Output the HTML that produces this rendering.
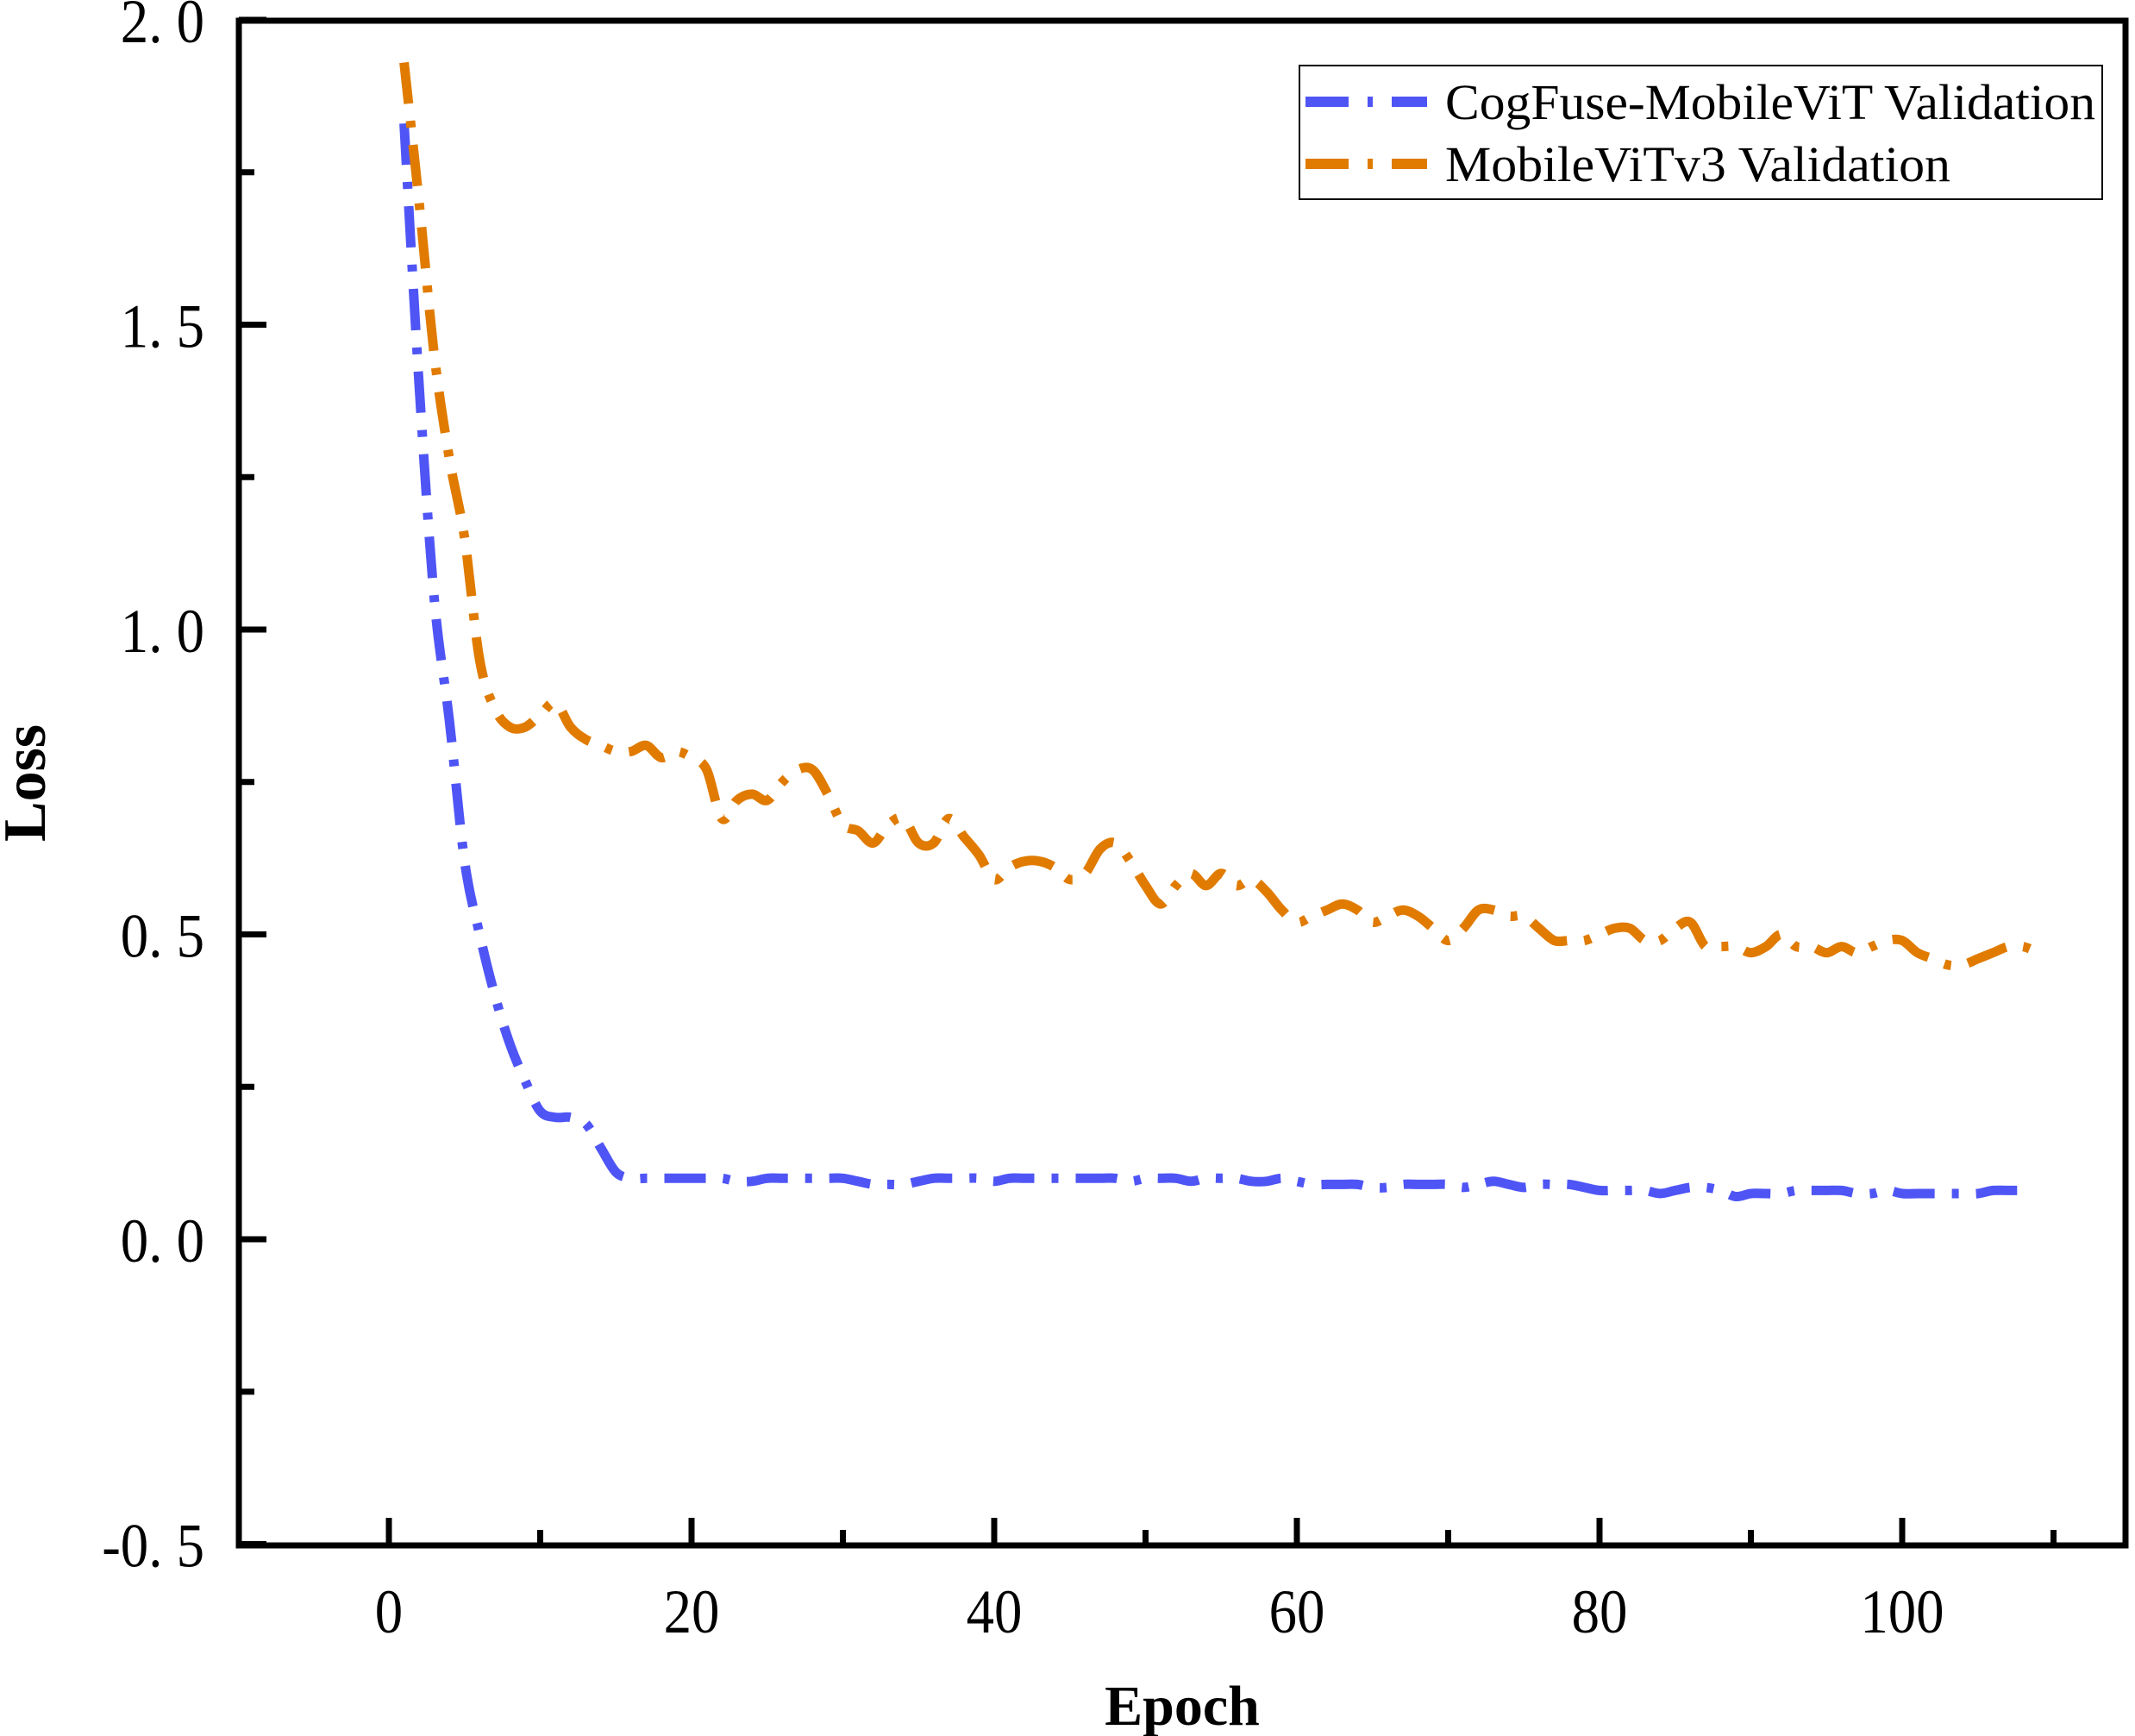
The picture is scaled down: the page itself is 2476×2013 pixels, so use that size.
<!DOCTYPE html>
<html><head><meta charset="utf-8"><style>
html,body{margin:0;padding:0;background:#fff;}
svg{display:block;}
text{font-family:"Liberation Serif",serif;fill:#000;}
</style></head><body>
<svg id="chart" width="2476" height="2013" viewBox="0 0 2476 2013" xmlns="http://www.w3.org/2000/svg">
<g id="grid"></g>
<g id="series"></g>
<rect x="277" y="24" width="2188" height="1768" fill="none" stroke="#000" stroke-width="7"/>
<g id="axes"></g>
<text transform="translate(52,908) rotate(-90)" text-anchor="middle" font-size="70" font-weight="bold">Loss</text>
<text x="1371" y="2000" text-anchor="middle" font-size="66" font-weight="bold">Epoch</text>
<g>
<rect x="1507" y="76" width="931" height="155" fill="#fff" stroke="#000" stroke-width="2"/>
<line x1="1514" y1="118" x2="1655" y2="118" stroke="#4f55f5" stroke-width="12" stroke-dasharray="50 22 6 22"/>
<text x="1676" y="138" font-size="58" textLength="754" lengthAdjust="spacingAndGlyphs">CogFuse-MobileViT Validation</text>
<line x1="1514" y1="190" x2="1655" y2="190" stroke="#e07b00" stroke-width="12" stroke-dasharray="50 22 6 22"/>
<text x="1676" y="210" font-size="58" textLength="586" lengthAdjust="spacingAndGlyphs">MobileViTv3 Validation</text>
</g>
</svg>
<script>
const blueLoss = [1.83,1.40,1.05,0.85,0.62,0.50,0.40,0.32,0.26,0.21,0.20,0.20,0.19,0.15,0.11,0.10,0.10,0.10,0.10,0.10,0.10,0.10,0.095,0.095,0.10,0.10,0.10,0.10,0.10,0.10,0.095,0.09,0.09,0.09,0.095,0.10,0.10,0.10,0.10,0.095,0.10,0.10,0.10,0.10,0.10,0.10,0.10,0.10,0.095,0.10,0.10,0.10,0.095,0.10,0.10,0.10,0.095,0.095,0.10,0.095,0.09,0.09,0.09,0.09,0.085,0.085,0.09,0.09,0.09,0.09,0.085,0.09,0.095,0.09,0.085,0.09,0.09,0.09,0.085,0.08,0.08,0.08,0.08,0.075,0.08,0.085,0.085,0.08,0.07,0.075,0.075,0.075,0.08,0.08,0.08,0.08,0.075,0.075,0.08,0.075,0.075,0.075,0.075,0.075,0.075,0.08,0.08,0.08];
const orangeLoss = [1.93,1.70,1.45,1.28,1.15,0.95,0.87,0.84,0.84,0.86,0.88,0.84,0.82,0.81,0.80,0.80,0.81,0.79,0.80,0.79,0.77,0.69,0.72,0.73,0.72,0.75,0.77,0.77,0.73,0.68,0.67,0.65,0.68,0.69,0.65,0.65,0.69,0.66,0.63,0.59,0.61,0.62,0.62,0.61,0.59,0.60,0.64,0.65,0.62,0.58,0.55,0.58,0.60,0.58,0.60,0.58,0.59,0.57,0.54,0.52,0.53,0.54,0.55,0.54,0.52,0.53,0.54,0.53,0.51,0.49,0.51,0.54,0.54,0.53,0.53,0.51,0.49,0.49,0.49,0.50,0.51,0.51,0.49,0.49,0.51,0.52,0.48,0.48,0.48,0.47,0.48,0.50,0.48,0.48,0.47,0.48,0.47,0.48,0.49,0.49,0.47,0.46,0.45,0.45,0.46,0.47,0.48,0.48,0.47];
const xTickLabels = [0,20,40,60,80,100];
const xMinorTicks = [10,30,50,70,90,110];
const yTickValues = [-0.5,0,0.5,1.0,1.5,2.0];
const yTickLabels = ["-0. 5","0. 0","0. 5","1. 0","1. 5","2. 0"];
const yMinorTicks = [-0.25,0.25,0.75,1.25,1.75];

const NS="http://www.w3.org/2000/svg";
function xPos(e){return 451 + e*17.55;}
function yPos(v){return 1437 - v*707;}
function mk(tag,attrs,parent){const el=document.createElementNS(NS,tag);for(const k in attrs)el.setAttribute(k,attrs[k]);parent.appendChild(el);return el;}
const axes=document.getElementById('axes');
const series=document.getElementById('series');

xTickLabels.forEach(v=>{
  const t=mk('line',{x1:xPos(v),x2:xPos(v),y1:1792,y2:1760,stroke:'#000','stroke-width':7},axes);
  
  
  const l=mk('text',{x:xPos(v),y:1893,'text-anchor':'middle','font-size':72,transform:'translate('+xPos(v)+',0) scale(0.9,1) translate('+(-xPos(v))+',0)'},axes);
  l.textContent=String(v);
  
  
});
xMinorTicks.forEach(v=>{
  const t=mk('line',{x1:xPos(v),x2:xPos(v),y1:1792,y2:1774,stroke:'#000','stroke-width':7},axes);
  
  
});
yTickValues.forEach((v,i)=>{
  const t=mk('line',{x1:277,x2:309,y1:yPos(v),y2:yPos(v),stroke:'#000','stroke-width':7},axes);
  
  
  const l=mk('text',{x:237,y:yPos(v)+26,'text-anchor':'end','font-size':72,transform:'translate(237,0) scale(0.9,1) translate(-237,0)'},axes);
  l.textContent=yTickLabels[i];
  
  
});
yMinorTicks.forEach(v=>{
  const t=mk('line',{x1:277,x2:295,y1:yPos(v),y2:yPos(v),stroke:'#000','stroke-width':7},axes);
  
  
});
function path(arr){
  const p=arr.map((v,i)=>[xPos(i+1),yPos(v)]);
  let d='M'+p[0][0].toFixed(1)+','+p[0][1].toFixed(1);
  for(let i=0;i<p.length-1;i++){
    const p0=p[Math.max(0,i-1)],p1=p[i],p2=p[i+1],p3=p[Math.min(p.length-1,i+2)];
    const c1x=p1[0]+(p2[0]-p0[0])/6,c1y=p1[1]+(p2[1]-p0[1])/6;
    const c2x=p2[0]-(p3[0]-p1[0])/6,c2y=p2[1]-(p3[1]-p1[1])/6;
    d+=' C'+c1x.toFixed(1)+','+c1y.toFixed(1)+' '+c2x.toFixed(1)+','+c2y.toFixed(1)+' '+p2[0].toFixed(1)+','+p2[1].toFixed(1);
  }
  return d;
}
const pb=mk('path',{d:path(blueLoss),fill:'none',stroke:'#4f55f5','stroke-width':11,'stroke-dasharray':'48 20 8 20','stroke-linejoin':'round'},series);


const po=mk('path',{d:path(orangeLoss),fill:'none',stroke:'#e07b00','stroke-width':11,'stroke-dasharray':'48 20 8 20','stroke-linejoin':'round'},series);


</script>
</body></html>
